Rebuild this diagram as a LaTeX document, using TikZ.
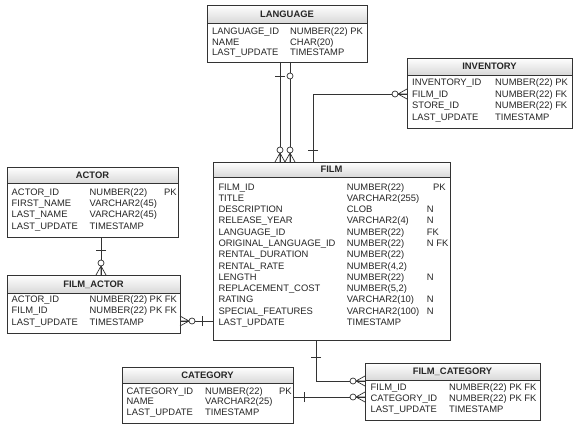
\documentclass[tikz,border=0pt]{standalone}
\usepackage{fontspec}
\setmainfont{Liberation Sans}
\usetikzlibrary{shadows}
\tikzset{
  tbl/.style={draw=black!80, line width=0.8pt, anchor=north west, inner sep=0pt, outer sep=0pt, fill=white,
    drop shadow={shadow xshift=1pt, shadow yshift=-1pt, opacity=0.35}},
  tblhead/.style={draw=black!80, line width=0.6pt, anchor=north west, inner sep=0pt, outer sep=0pt,
    top color=white, bottom color=black!15, text=black!85, text height=6.7pt, text depth=0pt,
    font=\bfseries\fontsize{9.4pt}{11pt}\selectfont},
  cell/.style={anchor=west, inner sep=0pt, text height=6.7pt, text depth=0pt, text=black!85,
    font=\fontsize{9.4pt}{11pt}\selectfont},
  conn/.style={draw=black!80, line width=0.7pt},
  crowo/.pic={\draw[conn] (9pt,0pt) -- (0pt,5pt) (9pt,0pt) -- (0pt,0pt) (9pt,0pt) -- (0pt,-5pt);
    \draw[conn, fill=white] (12pt,0pt) circle (3pt);},
  onebar/.pic={\draw[conn] (0pt,-5pt) -- (0pt,5pt);},
  zerocirc/.pic={\draw[conn, fill=white] (0pt,0pt) circle (3pt);},
}
% name, x, y, width, height, header height, title
\newcommand\ertable[7]{%
  \node[tbl, minimum width=#4pt, minimum height=#5pt] (#1) at (#2,#3) {};
  \node[tblhead, minimum width=#4pt, minimum height=#6pt] (#1-h) at (#2,#3) {#7};
}
% name, x, first y, step, items
\newcommand\ercol[5]{%
  \foreach [count=\ii] \cellx in {#5}
    \node[cell] (#1-\ii) at (#2, {#3+#4*(\ii-1)}) {\cellx};
}
\begin{document}
\begin{tikzpicture}[x=1pt, y=-1pt]
\useasboundingbox[fill=white] (0,0) rectangle (575,428);

% tables
\ertable{lang}{207}{5}{160}{57}{18}{LANGUAGE}
\ertable{inv}{407}{58}{165}{70}{17}{INVENTORY}
\ertable{actor}{7}{167}{171}{70}{16}{ACTOR}
\ertable{fa}{7}{275}{173}{58}{18}{FILM\_ACTOR}
\ertable{film}{213}{162}{237}{178}{15}{FILM}
\ertable{cat}{122}{367}{171}{56}{16}{CATEGORY}
\ertable{fc}{365}{363}{175}{57}{17}{FILM\_CATEGORY}

% LANGUAGE
\ercol{lang-c1}{212}{30.8}{10.9}{LANGUAGE\_ID, NAME, LAST\_UPDATE}
\ercol{lang-c2}{290}{30.8}{10.9}{NUMBER(22) PK, CHAR(20), TIMESTAMP}
% INVENTORY
\ercol{inv-c1}{412}{82.3}{11.5}{INVENTORY\_ID, FILM\_ID, STORE\_ID, LAST\_UPDATE}
\ercol{inv-c2}{495}{82.3}{11.5}{NUMBER(22) PK, NUMBER(22) FK, NUMBER(22) FK, TIMESTAMP}
% ACTOR
\ercol{actor-c1}{11.5}{191.7}{11.33}{ACTOR\_ID, FIRST\_NAME, LAST\_NAME, LAST\_UPDATE}
\ercol{actor-c2}{89.5}{191.7}{11.33}{NUMBER(22), VARCHAR2(45), VARCHAR2(45), TIMESTAMP}
\node[cell] (actor-c3-1) at (164,191.7) {PK};
% FILM_ACTOR
\ercol{fa-c1}{11.5}{299.3}{11.2}{ACTOR\_ID, FILM\_ID, LAST\_UPDATE}
\ercol{fa-c2}{89.5}{299.3}{11.2}{NUMBER(22) PK FK, NUMBER(22) PK FK, TIMESTAMP}
% FILM
\ercol{film-c1}{218.3}{186.7}{11.28}{FILM\_ID, TITLE, DESCRIPTION, RELEASE\_YEAR, LANGUAGE\_ID, ORIGINAL\_LANGUAGE\_ID, RENTAL\_DURATION, RENTAL\_RATE, LENGTH, REPLACEMENT\_COST, RATING, SPECIAL\_FEATURES, LAST\_UPDATE}
\ercol{film-c2}{346.7}{186.7}{11.28}{NUMBER(22), VARCHAR2(255), CLOB, VARCHAR2(4), NUMBER(22), NUMBER(22), NUMBER(22), {NUMBER(4,2)}, NUMBER(22), {NUMBER(5,2)}, VARCHAR2(10), VARCHAR2(100), TIMESTAMP}
\node[cell] (film-c3-1) at (433,186.7) {PK};
\node[cell] (film-c3-3) at (426.7,209.26) {N};
\node[cell] (film-c3-4) at (426.7,220.54) {N};
\node[cell] (film-c3-5) at (426.7,231.82) {FK};
\node[cell] (film-c3-6) at (426.7,243.1) {N FK};
\node[cell] (film-c3-9) at (426.7,276.94) {N};
\node[cell] (film-c3-11) at (426.7,299.5) {N};
\node[cell] (film-c3-12) at (426.7,310.78) {N};
% CATEGORY
\ercol{cat-c1}{126.5}{390.7}{10.9}{CATEGORY\_ID, NAME, LAST\_UPDATE}
\ercol{cat-c2}{205}{390.7}{10.9}{NUMBER(22), VARCHAR2(25), TIMESTAMP}
\node[cell] (cat-c3-1) at (279,390.7) {PK};
% FILM_CATEGORY
\ercol{fc-c1}{370.5}{386.7}{11.3}{FILM\_ID, CATEGORY\_ID, LAST\_UPDATE}
\ercol{fc-c2}{449}{386.7}{11.3}{NUMBER(22) PK FK, NUMBER(22) PK FK, TIMESTAMP}

% connectors
\draw[conn] ([xshift=73pt]lang.south west) -- ([xshift=67pt]film.north west);
\draw[conn] ([xshift=83pt]lang.south west) -- ([xshift=77pt]film.north west);
\draw[conn] ([yshift=-36pt]inv.north west) -| ([xshift=100pt]film.north west);
\draw[conn] ([xshift=94pt]actor.south west) -- ([xshift=94pt]fa.north west);
\draw[conn] ([yshift=-46pt]fa.north east) -- ([yshift=-159pt]film.north west);
\draw[conn] ([xshift=103pt]film.south west) |- ([yshift=-18pt]fc.north west);
\draw[conn] ([yshift=-30pt]cat.north east) -- ([yshift=-34pt]fc.north west);

% end symbols
\path ([xshift=67pt]film.north west) pic[rotate=90] {crowo};
\path ([xshift=73pt,yshift=-14pt]lang.south west) pic[rotate=90] {onebar};
\path ([xshift=77pt]film.north west) pic[rotate=90] {crowo};
\path ([xshift=83pt,yshift=-14pt]lang.south west) pic {zerocirc};

\path ([yshift=-36pt]inv.north west) pic[rotate=180] {crowo};
\path ([xshift=100pt,yshift=12pt]film.north west) pic[rotate=90] {onebar};

\path ([xshift=94pt,yshift=-13pt]actor.south west) pic[rotate=90] {onebar};
\path ([xshift=94pt]fa.north west) pic[rotate=90] {crowo};

\path ([yshift=-46pt]fa.north east) pic {crowo};
\path ([xshift=-11pt,yshift=-159pt]film.north west) pic {onebar};

\path ([xshift=103pt,yshift=-17pt]film.south west) pic[rotate=90] {onebar};
\path ([yshift=-18pt]fc.north west) pic[rotate=180] {crowo};

\path ([xshift=11pt,yshift=-30pt]cat.north east) pic {onebar};
\path ([yshift=-34pt]fc.north west) pic[rotate=180] {crowo};
\end{tikzpicture}
\end{document}
